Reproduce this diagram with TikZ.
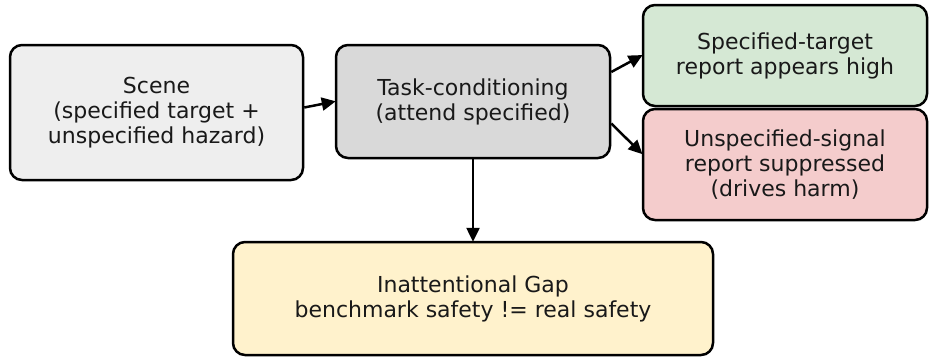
\documentclass[tikz,border=0pt]{standalone}
\usepackage{fontspec}
\setmainfont{DejaVu Sans}
\usetikzlibrary{arrows.meta,calc}
\definecolor{scenefill}{HTML}{EEEEEE}
\definecolor{taskfill}{HTML}{D9D9D9}
\definecolor{greenfill}{HTML}{D5E8D4}
\definecolor{redfill}{HTML}{F4CCCC}
\definecolor{yellowfill}{HTML}{FFF2CC}
\tikzset{
  box/.style={draw=black, line width=2.5pt, rounded corners=12pt, align=center,
    inner sep=0pt, font=\fontsize{22}{25}\selectfont, text=black!90},
  conn/.style={line width=2.5pt, -{Triangle[length=14pt,width=13pt]}, shorten >=-1pt}
}
\begin{document}
\begin{tikzpicture}[x=1pt,y=-1pt]
\useasboundingbox (0,0) rectangle (929,362);
\node[box, fill=scenefill, minimum width=293pt, minimum height=135pt] (scene) at (156.5,112.5)
  {Scene\\(specified target +\\unspecified hazard)};
\node[box, fill=taskfill, minimum width=274pt, minimum height=113pt] (task) at (473,101.5)
  {Task-conditioning\\(attend specified)};
\node[box, fill=greenfill, minimum width=284pt, minimum height=101pt] (green) at (785,55.5)
  {Specified-target\\report appears high};
\node[box, fill=redfill, minimum width=284pt, minimum height=111pt] (red) at (785,164.5)
  {Unspecified-signal\\report suppressed\\(drives harm)};
\node[box, fill=yellowfill, minimum width=480pt, minimum height=113pt] (gap) at (473,298.5)
  {Inattentional Gap\\benchmark safety != real safety};
\draw[conn] ($(scene.east)+(0,-5)$) -- (task.west);
\draw[conn] ($(task.east)+(0,-29.5)$) -- (green.west);
\draw[conn] ($(task.east)+(0,22)$) -- ($(red.west)+(0,-11)$);
\draw[conn] (task.south) -- (gap.north);
\end{tikzpicture}
\end{document}
